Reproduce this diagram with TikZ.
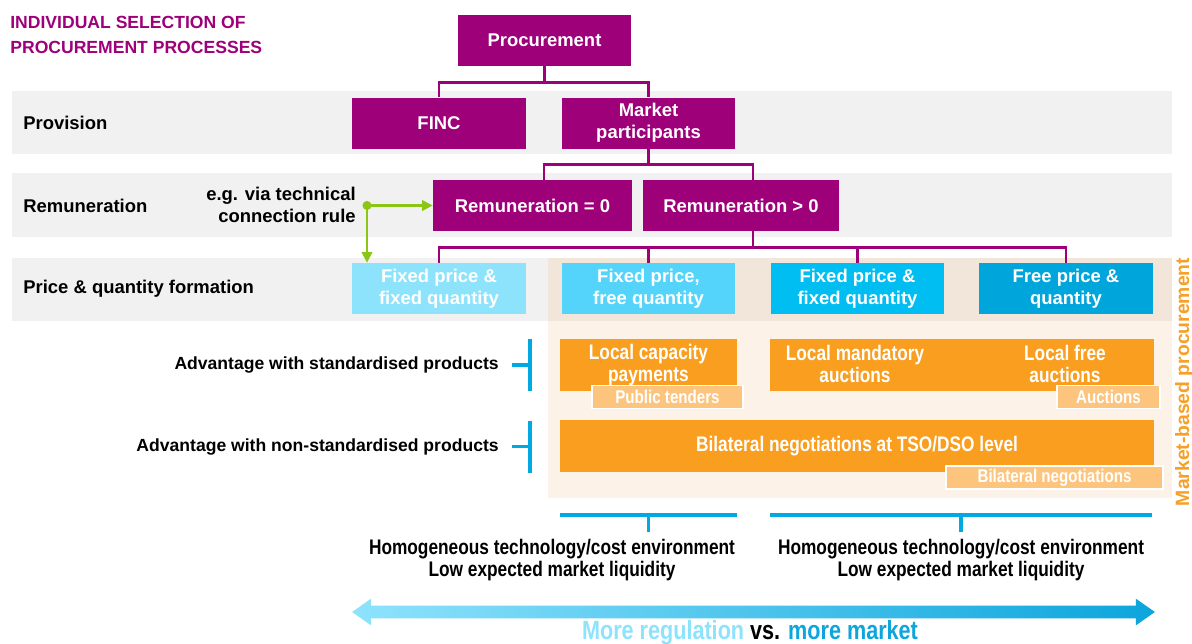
\documentclass[tikz,border=0pt]{standalone}
\usepackage{fontspec}
\setmainfont{Liberation Sans}
\newfontfamily\narrowfont[FakeStretch=0.82]{Liberation Sans}
\usepackage{tikz}
\usetikzlibrary{arrows.meta,positioning,shapes.arrows}
\definecolor{procpurple}{RGB}{158,0,122}
\definecolor{bandgray}{RGB}{241,241,241}
\definecolor{beigedark}{RGB}{242,230,218}
\definecolor{beigelight}{RGB}{252,242,232}
\definecolor{pricelight}{RGB}{142,227,252}
\definecolor{pricemid}{RGB}{85,212,251}
\definecolor{pricedeep}{RGB}{0,189,242}
\definecolor{pricedark}{RGB}{0,165,219}
\definecolor{orangebox}{RGB}{249,158,30}
\definecolor{orangelight}{RGB}{253,196,125}
\definecolor{mbporange}{RGB}{246,160,40}
\definecolor{viagreen}{RGB}{140,198,20}
\definecolor{bracketblue}{RGB}{0,170,225}
\definecolor{arrowblue}{RGB}{12,165,220}

\begin{document}
\begin{tikzpicture}[x=0.02cm, y=-0.02cm,
proc node/.style={fill=procpurple, text=white, align=center, inner sep=0pt, minimum height=1.02cm, font=\fontsize{10.5}{12.5}\selectfont\bfseries},
price node/.style={text=white, align=center, inner sep=0pt, minimum width=3.48cm, minimum height=1.02cm, font=\fontsize{10.5}{12.5}\selectfont\bfseries},
tender node/.style={fill=orangebox, text=white, align=center, inner sep=0pt, minimum height=1.04cm, font=\narrowfont\fontsize{12}{13}\selectfont\bfseries},
tag node/.style={fill=orangelight, draw=white, line width=0.8pt, text=white, inner sep=0pt, minimum height=0.45cm, font=\narrowfont\fontsize{10.5}{12}\selectfont\bfseries},
row label/.style={anchor=west, inner sep=0pt, font=\fontsize{10.5}{12.5}\selectfont\bfseries},
side label/.style={anchor=east, inner sep=0pt, font=\fontsize{10}{12.5}\selectfont\bfseries},
tree/.style={draw=procpurple, line width=1.6pt},
bracket/.style={draw=bracketblue, line width=2pt},
via/.style={draw=viagreen, line width=1.2pt, -{Triangle[length=6pt,width=6pt]}}]
\useasboundingbox (0,0) rectangle (1192,643);
\fill[white] (0,0) rectangle (1192,643);

% bands and market-based area
\fill[bandgray] (12,91) rectangle (1172,154);
\fill[bandgray] (12,173) rectangle (1172,237);
\fill[bandgray] (12,258) rectangle (1172,321);
\fill[beigedark] (548,258) rectangle (1172,321);
\fill[beigelight] (548,321) rectangle (1172,498);

\node[anchor=west, align=left, inner sep=0pt, text=procpurple, font=\fontsize{10}{14.7}\selectfont\bfseries] (title) at (10,35) {INDIVIDUAL\ SELECTION\ OF\\PROCUREMENT\ PROCESSES};
\node[row label] (provision) at (23,123) {Provision};
\node[row label] (remuneration) at (23,205.5) {Remuneration};
\node[row label] (formation) at (23,289) {Price \& quantity formation};

% tree
\node[proc node, minimum width=3.46cm] (proc) at (544.5,40.5) {Procurement};
\node[proc node, minimum width=3.48cm] (finc) at (439,123) {FINC};
\node[proc node, minimum width=3.46cm] (mp) at (648.5,123) {Market\\participants};
\node[proc node, minimum width=3.98cm] (rem0) at (532.5,205.5) {Remuneration = 0};
\node[proc node, minimum width=3.92cm] (remp) at (741,205.5) {Remuneration > 0};

\node[price node, fill=pricelight] (fixfix) at (439,288.5) {Fixed price \&\\fixed quantity};
\node[price node, fill=pricemid] (fixfree) at (648.5,288.5) {Fixed price,\\free quantity};
\node[price node, fill=pricedeep] (fixmkt) at (857.5,288.5) {Fixed price \&\\fixed quantity};
\node[price node, fill=pricedark] (freefree) at (1066,288.5) {Free price \&\\quantity};

\draw[tree] (proc.south) -- ++(0,16) coordinate (b1);
\foreach \n in {finc,mp} \draw[tree] (b1) -| (\n.north);
\draw[tree] (mp.south) -- ++(0,16) coordinate (b2);
\draw[tree] (b2) -| ([xshift=0.23cm]rem0.north);
\draw[tree] (b2) -| ([xshift=0.24cm]remp.north);
\draw[tree] ([xshift=0.24cm]remp.south) -- ++(0,16) coordinate (b3);
\foreach \n in {fixfix,fixfree,fixmkt,freefree} \draw[tree] (b3) -| (\n.north);

% technical connection rule
\node[anchor=east, align=right, inner sep=0pt, font=\fontsize{10.5}{12.5}\selectfont\bfseries] (egrule) at (356,205) {e.g. via technical\\connection rule};
\coordinate (viadot) at (367,205.5);
\draw[via] (viadot) -- (rem0.west);
\draw[via] (viadot) -- (viadot |- fixfix.north);
\fill[viagreen] (viadot) circle (2.6pt);

% procurement processes
\node[tender node, minimum width=3.54cm] (lcp) at (648.5,365) {Local capacity\\payments};
\node[tender node, minimum width=7.68cm] (auct) at (962,365) {};
\node[align=center, text=white, font=\narrowfont\fontsize{12}{13}\selectfont\bfseries] (lma) at (855,364) {Local mandatory\\auctions};
\node[align=center, text=white, font=\narrowfont\fontsize{12}{13}\selectfont\bfseries] (lfa) at (1065,364) {Local free\\auctions};
\node[tag node, minimum width=3.02cm] (tenders) at (667.5,397) {Public tenders};
\node[tag node, minimum width=2.06cm] (auctag) at (1108.5,397) {Auctions};
\node[tender node, minimum width=11.88cm] (bilat) at (857,446) {Bilateral negotiations at TSO/DSO level};
\node[tag node, minimum width=4.34cm, minimum height=0.46cm] (bilattag) at (1054.5,477.5) {Bilateral negotiations};

\node[rotate=90, inner sep=0pt, text=mbporange, font=\fontsize{11}{13}\selectfont\bfseries] (mbp) at (1184,382) {Market-based procurement};

% advantages
\node[side label] (stdadv) at (499,364.5) {Advantage with standardised products};
\node[side label] (nstdadv) at (499,446.5) {Advantage with non-standardised products};
\foreach \y in {365,446.5} \draw[bracket] (512,\y) -- (530,\y) (530,\y-26) -- (530,\y+26);

% environments
\draw[bracket] (560,515) -- (737,515) (648.5,515) -- (648.5,532);
\draw[bracket] (770,515) -- (1152,515) (961,515) -- (961,532);
\node[align=center, font=\narrowfont\fontsize{12}{12.5}\selectfont\bfseries] (envleft) at (552,560) {Homogeneous technology/cost environment\\Low expected market liquidity};
\node[align=center, font=\narrowfont\fontsize{12}{12.5}\selectfont\bfseries] (envright) at (961,560) {Homogeneous technology/cost environment\\Low expected market liquidity};

% regulation vs. market
\node[double arrow, draw=none, left color=pricelight, right color=arrowblue, inner sep=0pt, inner ysep=0.12cm,
  double arrow head extend=0.14cm, double arrow tip angle=70, minimum height=16.06cm] (scale) at (753.5,612) {};
\node[font=\narrowfont\fontsize{15}{17}\selectfont\bfseries] (verdict) at (750,633) {\textcolor{pricelight}{More regulation} vs. \textcolor{arrowblue}{more market}};
\end{tikzpicture}
\end{document}
